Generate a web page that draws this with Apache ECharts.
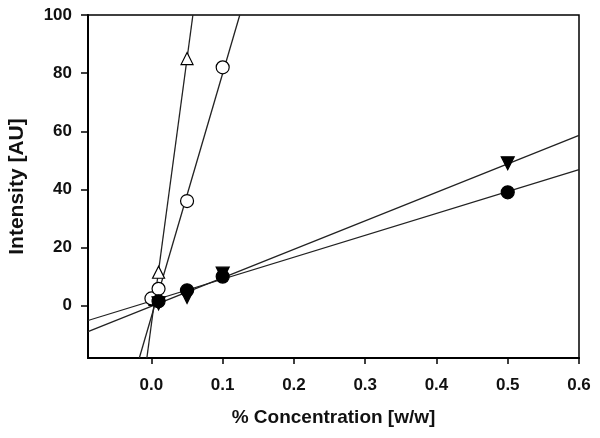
<!DOCTYPE html>
<html><head><meta charset="utf-8">
<script src="https://cdn.jsdelivr.net/npm/echarts@6/dist/echarts.min.js"></script>
<style>html,body{margin:0;padding:0;background:#fff}#c{width:600px;height:438px}</style>
</head><body><div id="c"></div>
<script>
// Data points [concentration, intensity]
var openTriangle = [[0.005, 2.2], [0.01, 11.5], [0.05, 85]];
var openCircle = [[0.0, 2.5], [0.01, 5.8], [0.05, 36], [0.1, 82]];
var filledCircle = [[0.01, 1.5], [0.05, 5.3], [0.1, 10], [0.5, 39]];
var filledTriDown = [[0.01, 0.8], [0.05, 3], [0.1, 11], [0.5, 49]];
// Regression lines (endpoints)
var fitOpenTriangle = [[-0.0064, -18], [0.0582, 100]];
var fitOpenCircle = [[-0.017, -18], [0.124, 100]];
var fitFilledCircle = [[-0.089, -5.1], [0.6, 46.8]];
var fitFilledTriDown = [[-0.089, -8.9], [0.6, 58.6]];
// Ticks
var xTicks = [0, 0.1, 0.2, 0.3, 0.4, 0.5, 0.6];
var yTicks = [0, 20, 40, 60, 80, 100];

var chart = echarts.init(document.getElementById('c'), null, {renderer: 'canvas'});
var font = 'Liberation Sans, Arial, sans-serif';
function lineSeries(d) {
  return {type: 'line', data: d, symbol: 'none', clip: true, silent: true,
    lineStyle: {color: '#222', width: 1.3}, z: 2};
}
function scatter(d, sym, fill, rot, size) {
  return {type: 'scatter', data: d, symbol: sym, symbolSize: size, symbolRotate: rot || 0,
    itemStyle: {color: fill, borderColor: '#000', borderWidth: 1.2, opacity: 1}, z: 5};
}
chart.setOption({
  animation: false,
  backgroundColor: '#fff',
  grid: {left: 88, right: 21, top: 15, bottom: 80, outerBoundsMode: 'none', containLabel: false,
    show: true, borderColor: '#000', borderWidth: 1.5, backgroundColor: 'transparent'},
  xAxis: {
    type: 'value', min: -0.089, max: 0.6,
    name: '% Concentration [w/w]', nameLocation: 'middle', nameGap: 50,
    nameTextStyle: {fontFamily: font, fontWeight: 'bold', fontSize: 19, color: '#111'},
    axisLine: {show: true, onZero: false, lineStyle: {color: '#000', width: 2}},
    axisTick: {show: true, length: 6, customValues: xTicks, lineStyle: {color: '#000', width: 1.5}},
    axisLabel: {customValues: xTicks, margin: 19, fontFamily: font, fontWeight: 'bold', fontSize: 17, color: '#111',
      formatter: function (v) { return v.toFixed(1); }},
    splitLine: {show: false}
  },
  yAxis: {
    type: 'value', min: -18, max: 100,
    name: 'Intensity [AU]', nameLocation: 'middle', nameGap: 60,
    nameTextStyle: {fontFamily: font, fontWeight: 'bold', fontSize: 21, color: '#111'},
    axisLine: {show: true, onZero: false, lineStyle: {color: '#000', width: 2}},
    axisTick: {show: true, length: 7, customValues: yTicks, lineStyle: {color: '#000', width: 1.5}},
    axisLabel: {customValues: yTicks, margin: 16, fontFamily: font, fontWeight: 'bold', fontSize: 17, color: '#111'},
    splitLine: {show: false}
  },
  series: [
    lineSeries(fitOpenTriangle),
    lineSeries(fitOpenCircle),
    lineSeries(fitFilledCircle),
    lineSeries(fitFilledTriDown),
    scatter(openTriangle, 'triangle', '#fff', 0, 12),
    scatter(openCircle, 'circle', '#fff', 0, 13),
    scatter(filledCircle, 'circle', '#000', 0, 13),
    scatter(filledTriDown, 'triangle', '#000', 180, 13)
  ]
});
</script></body></html>
